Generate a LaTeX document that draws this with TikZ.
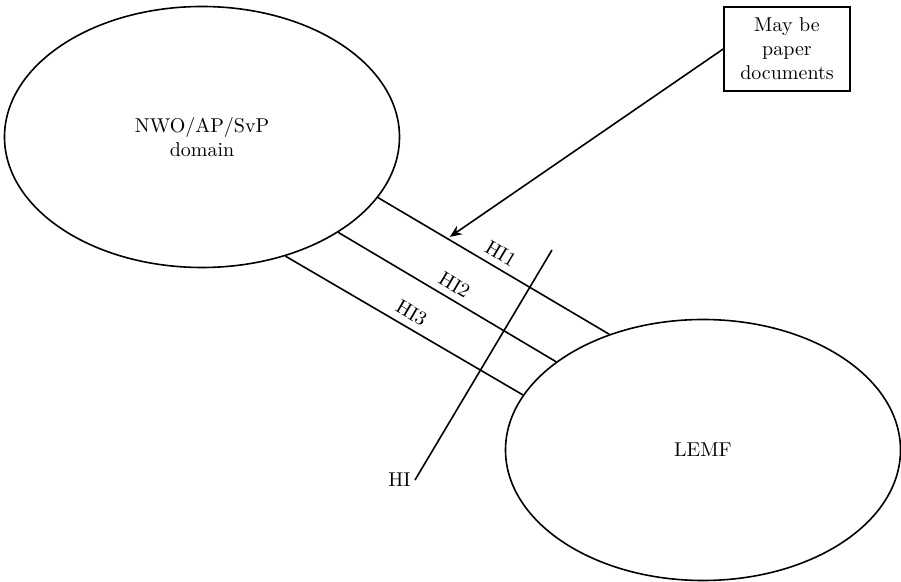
\documentclass[tikz,border=0pt]{standalone}
\usepackage{xcolor}
\usetikzlibrary{arrows.meta}
\usetikzlibrary{shapes.geometric, math}

\tikzset{
  area/.style={draw, ellipse, align=center, line width=0.8pt,
    minimum width=2*\rx*0.5pt, minimum height=2*\ry*0.5pt},
  hiline/.style={line width=0.8pt},
  note/.style={draw, align=center, line width=0.8pt,
    minimum width=63pt, minimum height=42pt}
}

\begin{document}
\begin{tikzpicture}[x=0.5pt,y=-0.5pt]
\tikzmath{
\rx=197.5;
\ry=130.5;
}
\useasboundingbox (0,0) rectangle (901,582);

% the two domains
\node[area] (nwo) at (202,137) {NWO/AP/SvP\\domain};
\node[area] (lemf) at (703,450) {LEMF};

% handover interfaces
\draw[hiline] (nwo.-19.7) -- (lemf.129.6)
  coordinate[pos=0.3] (doc) node[midway,above,sloped] (hione) {HI1};
\draw[hiline] (nwo.-35.2) -- (lemf.149.4)
  node[midway,above,sloped] (hitwo) {HI2};
\draw[hiline] (nwo.-55.3) -- (lemf.163.7)
  node[midway,above,sloped] (hithree) {HI3};

% cut through the three interfaces
\coordinate (hitop) at (552,250);
\coordinate (hibot) at (415,480);
\draw[hiline] (hitop) -- (hibot);
\node[left, inner sep=2pt] (hi) at (hibot) {HI};

% note on HI1
\node[note] (paper) at (787,49) {May be\\paper\\documents};
\draw[hiline, -{Stealth[length=6pt,width=5pt]}, shorten >=1.5pt] (paper.west) -- (doc);

\end{tikzpicture}
\end{document}
